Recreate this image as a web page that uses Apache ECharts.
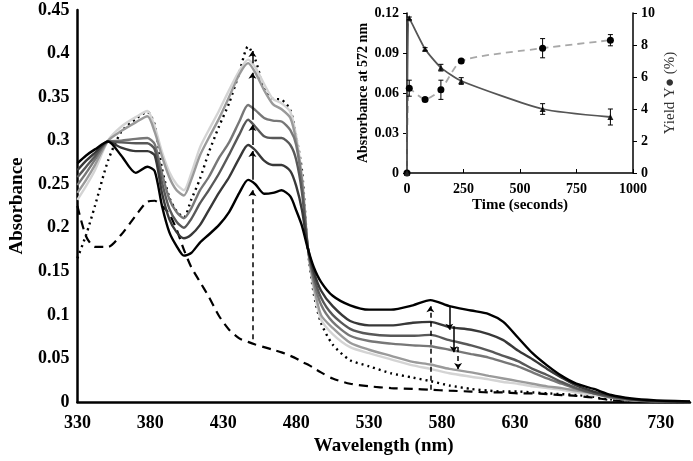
<!DOCTYPE html>
<html><head><meta charset="utf-8">
<script src="https://cdn.jsdelivr.net/npm/echarts@6/dist/echarts.min.js"></script>
<style>html,body{margin:0;padding:0;background:#fff}#c{width:693px;height:461px}</style>
</head><body><div id="c"></div>
<script>
// ---- Main spectra data ----
const WL = [330,336,342,351,360,370,378,383,388,393,398,403,408,414,420,427,434,441,447,452,458,464,470,476,480,484,488,492,497,505,517,530,545,560,572,585,600,612,622,632,642,652,662,672,684,696,710,725,750];
const spec0 = [0.274,0.283,0.290,0.299,0.283,0.263,0.270,0.265,0.225,0.195,0.179,0.168,0.171,0.183,0.192,0.203,0.218,0.240,0.255,0.250,0.239,0.240,0.243,0.236,0.220,0.202,0.176,0.155,0.138,0.122,0.111,0.106,0.106,0.111,0.117,0.110,0.105,0.101,0.092,0.074,0.056,0.042,0.030,0.021,0.015,0.008,0.004,0.002,0.0005];
const spec1 = [0.266,0.277,0.286,0.299,0.292,0.288,0.288,0.283,0.240,0.210,0.195,0.188,0.192,0.203,0.220,0.240,0.258,0.280,0.295,0.289,0.277,0.272,0.272,0.265,0.248,0.220,0.177,0.150,0.128,0.110,0.093,0.088,0.088,0.091,0.092,0.086,0.083,0.078,0.071,0.059,0.049,0.038,0.028,0.019,0.012,0.007,0.003,0.001,0];
const spec2 = [0.258,0.270,0.282,0.299,0.298,0.297,0.297,0.290,0.252,0.222,0.207,0.200,0.210,0.228,0.243,0.262,0.284,0.307,0.324,0.316,0.305,0.303,0.303,0.295,0.278,0.240,0.177,0.145,0.120,0.100,0.084,0.078,0.076,0.076,0.077,0.071,0.065,0.059,0.053,0.047,0.038,0.031,0.023,0.016,0.010,0.006,0.003,0.001,0];
const spec3 = [0.249,0.263,0.278,0.299,0.300,0.302,0.303,0.296,0.262,0.233,0.218,0.211,0.222,0.243,0.258,0.280,0.298,0.322,0.341,0.335,0.326,0.323,0.322,0.312,0.295,0.250,0.177,0.140,0.112,0.092,0.076,0.070,0.067,0.065,0.064,0.060,0.055,0.051,0.046,0.041,0.034,0.027,0.021,0.015,0.010,0.005,0.002,0.001,0];
const spec4 = [0.240,0.255,0.272,0.300,0.311,0.321,0.328,0.310,0.282,0.258,0.243,0.237,0.255,0.283,0.303,0.325,0.350,0.376,0.389,0.378,0.358,0.342,0.336,0.326,0.300,0.255,0.177,0.135,0.100,0.085,0.068,0.060,0.053,0.046,0.043,0.038,0.034,0.030,0.027,0.024,0.021,0.018,0.016,0.013,0.010,0.006,0.003,0.001,0];
const spec5 = [0.232,0.248,0.266,0.300,0.316,0.327,0.334,0.316,0.287,0.264,0.250,0.243,0.262,0.292,0.312,0.334,0.358,0.380,0.393,0.384,0.365,0.348,0.343,0.333,0.305,0.258,0.177,0.130,0.095,0.078,0.063,0.056,0.049,0.042,0.038,0.033,0.029,0.026,0.023,0.021,0.018,0.016,0.014,0.011,0.008,0.005,0.002,0.001,0];
const specDotted = [0.165,0.192,0.225,0.277,0.310,0.325,0.333,0.318,0.268,0.235,0.219,0.212,0.232,0.256,0.286,0.316,0.343,0.378,0.408,0.393,0.360,0.348,0.347,0.335,0.305,0.265,0.175,0.125,0.091,0.066,0.048,0.041,0.033,0.028,0.024,0.019,0.015,0.013,0.012,0.012,0.011,0.010,0.009,0.008,0.006,0.003,0.001,0,0];
const specDashed = [0.225,0.190,0.178,0.178,0.192,0.214,0.230,0.231,0.225,0.216,0.198,0.175,0.155,0.138,0.121,0.099,0.083,0.073,0.069,0.066,0.063,0.060,0.057,0.053,0.050,0.046,0.043,0.039,0.034,0.027,0.021,0.018,0.016,0.015,0.014,0.013,0.012,0.011,0.011,0.010,0.010,0.009,0.008,0.007,0.005,0.002,0.001,0,0];
const specColors = ['#000000','#383838','#585858','#777777','#9a9a9a','#d4d4d4'];

// ---- Arrows (annotation) ----
const arrowUpDashed = [[450,0.072,0.243],[572,0.014,0.110]];
const arrowUpSolid = [[450,0.255,0.288],[450,0.295,0.318],[450,0.324,0.378],[450,0.389,0.403]];
const arrowDownSolid = [[585,0.110,0.083],[588,0.087,0.057]];
const arrowDownDashed = [[591,0.063,0.038]];

// ---- Inset data ----
const timeS = [0,10,80,150,240,600,900];
const abs572 = [0,0.116,0.093,0.079,0.069,0.048,0.042];
const abs572Err = [0,0.001,0.001,0.0025,0.0025,0.004,0.006];
const yieldY = [0,5.3,4.6,5.2,7.0,7.8,8.3];
const yieldYErr = [0,0.5,0.1,0.6,0.1,0.6,0.35];

const serif = '"Liberation Serif","Times New Roman",serif';
const zip = (xs, ys) => xs.map((x,i)=>[x, ys[i]]);
const chart = echarts.init(document.getElementById('c'));

function specSeries(vals, color, type, width){
  return {type:'line', xAxisIndex:0, yAxisIndex:0, data: zip(WL, vals), showSymbol:false, smooth:0.25,
    lineStyle:{color, width, type}, silent:true, z: 3};
}
function arrowSeries(list, dashed){
  return {type:'lines', coordinateSystem:'cartesian2d', xAxisIndex:0, yAxisIndex:0, polyline:false,
    symbol:['none','arrow'], symbolSize:6, silent:true, z:5,
    lineStyle:{color:'#000', width:1.5, type: dashed ? [5,4] : 'solid', opacity:1},
    data: list.map(a => ({coords:[[a[0],a[1]],[a[0],a[2]]]}))};
}
function errSeries(xs, ys, es, yIdx){
  return {type:'custom', xAxisIndex:1, yAxisIndex:yIdx, silent:true, z:6,
    data: xs.map((x,i)=>[x, ys[i], es[i]]).filter(d=>d[2]>0),
    encode:{x:0,y:1},
    renderItem(params, api){
      const x=api.value(0), y=api.value(1), e=api.value(2);
      const lo=api.coord([x,y-e]), hi=api.coord([x,y+e]);
      const st={stroke:'#000', lineWidth:1};
      return {type:'group', children:[
        {type:'line', shape:{x1:lo[0],y1:lo[1],x2:hi[0],y2:hi[1]}, style:st},
        {type:'line', shape:{x1:lo[0]-2.5,y1:lo[1],x2:lo[0]+2.5,y2:lo[1]}, style:st},
        {type:'line', shape:{x1:hi[0]-2.5,y1:hi[1],x2:hi[0]+2.5,y2:hi[1]}, style:st}
      ]};
    }};
}

const labelMain = {fontFamily:serif, fontWeight:'bold', fontSize:18, color:'#000'};
const labelInset = {fontFamily:serif, fontWeight:'bold', fontSize:14, color:'#000'};

chart.setOption({
  animation:false,
  backgroundColor:'#fff',
  grid:[
    {left:70, right:2, top:10, bottom:59},
    {left:407, right:60, top:13, bottom:288}
  ],
  xAxis:[
    {type:'value', gridIndex:0, min:330, max:750, interval:10,
     axisLine:{lineStyle:{color:'#000', width:2.5}}, axisTick:{show:false}, splitLine:{show:false},
     axisLabel:{...labelMain, margin:12, formatter:v => ((v-330)%50===0 && v<=730) ? String(v) : ''},
     name:'Wavelength (nm)', nameLocation:'middle', nameGap:31,
     nameTextStyle:{fontFamily:serif, fontWeight:'bold', fontSize:19, color:'#000'}},
    {type:'value', gridIndex:1, min:0, max:1000, interval:250,
     axisLine:{lineStyle:{color:'#000', width:1.5}}, axisTick:{show:true, inside:true, length:4, lineStyle:{color:'#000'}},
     splitLine:{show:false}, axisLabel:{...labelInset, margin:9, formatter:v => String(v)},
     name:'Time (seconds)', nameLocation:'middle', nameGap:25,
     nameTextStyle:{fontFamily:serif, fontWeight:'bold', fontSize:15, color:'#000'}}
  ],
  yAxis:[
    {type:'value', gridIndex:0, min:0, max:0.45, interval:0.05,
     axisLine:{show:true, lineStyle:{color:'#000', width:2.5}}, axisTick:{show:false}, splitLine:{show:false},
     axisLabel:{...labelMain, margin:8, formatter:v => String(+v.toFixed(2))},
     name:'Absorbance', nameLocation:'middle', nameGap:47,
     nameTextStyle:{fontFamily:serif, fontWeight:'bold', fontSize:19, color:'#000'}},
    {type:'value', gridIndex:1, min:0, max:0.12, interval:0.03, position:'left',
     axisLine:{show:true, lineStyle:{color:'#000', width:1.5}}, axisTick:{show:true, length:4, lineStyle:{color:'#000'}},
     splitLine:{show:false}, axisLabel:{...labelInset, margin:8, formatter:v => String(+v.toFixed(2))},
     name:'Absrorbance at 572 nm', nameLocation:'middle', nameGap:37,
     nameTextStyle:{fontFamily:serif, fontWeight:'bold', fontSize:14, color:'#000'}},
    {type:'value', gridIndex:1, min:0, max:10, interval:2, position:'right',
     axisLine:{show:true, lineStyle:{color:'#000', width:1.5}}, axisTick:{show:true, length:4, lineStyle:{color:'#000'}},
     splitLine:{show:false}, axisLabel:{...labelInset, margin:8},
     name:'Yield Y● (%)', nameLocation:'middle', nameGap:30, nameRotate:90,
     nameTextStyle:{fontFamily:serif, fontSize:15, color:'#333'}}
  ],
  series:[
    specSeries(specDashed, '#000', [9,6], 2.2),
    specSeries(specDotted, '#000', [2,4], 2.4),
    specSeries(spec5, specColors[5], 'solid', 2.4),
    specSeries(spec4, specColors[4], 'solid', 2.4),
    specSeries(spec3, specColors[3], 'solid', 2.4),
    specSeries(spec2, specColors[2], 'solid', 2.4),
    specSeries(spec1, specColors[1], 'solid', 2.4),
    specSeries(spec0, specColors[0], 'solid', 2.4),
    arrowSeries(arrowUpDashed, true),
    arrowSeries(arrowUpSolid, false),
    arrowSeries(arrowDownSolid, false),
    arrowSeries(arrowDownDashed, true),
    {type:'line', xAxisIndex:1, yAxisIndex:2, data: zip(timeS, yieldY), smooth:0.2,
     lineStyle:{color:'#a8a8a8', width:1.8, type:[7,5]}, symbol:'circle', symbolSize:7,
     itemStyle:{color:'#000'}, silent:true, z:4},
    {type:'line', xAxisIndex:1, yAxisIndex:1, data: zip(timeS, abs572), smooth:0.2,
     lineStyle:{color:'#555', width:1.8}, symbol:'triangle', symbolSize:6,
     itemStyle:{color:'#222'}, silent:true, z:4},
    errSeries(timeS, abs572, abs572Err, 1),
    errSeries(timeS, yieldY, yieldYErr, 2)
  ]
});
</script></body></html>
